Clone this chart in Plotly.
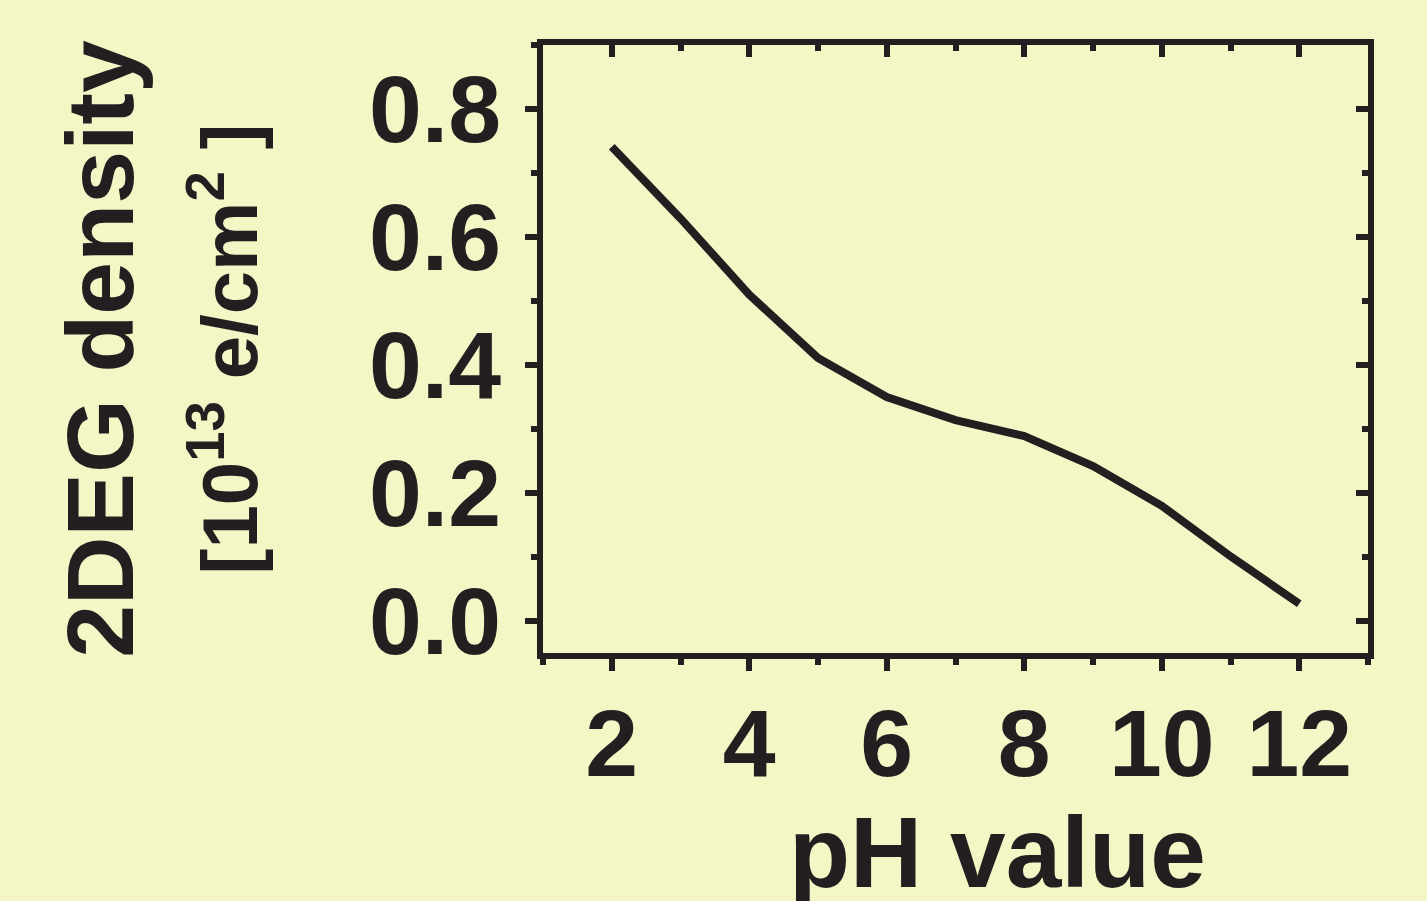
import plotly.graph_objects as go

ph_values = [2, 3, 4, 5, 6, 7, 8, 9, 10, 11, 12]
density = [0.741, 0.629, 0.510, 0.411, 0.350, 0.314, 0.289, 0.242, 0.180, 0.101, 0.027]

x_title = "pH value"
y_title = ("2DEG density<br><span style='font-size:78px'>[10<sup>13</sup> "
           "e/cm<sup>2</sup> ]</span>")

INK = "#231F20"
BG = "#F5F6C6"
FONT = "Liberation Sans, Arial, sans-serif"

fig = go.Figure()
fig.add_trace(go.Scatter(x=ph_values, y=density, mode="lines",
                         line=dict(color=INK, width=8), showlegend=False,
                         hoverinfo="skip"))
# invisible trace to activate mirror axes with inward ticks
fig.add_trace(go.Scatter(x=ph_values, y=density, mode="lines",
                         line=dict(color="rgba(0,0,0,0)", width=0),
                         xaxis="x2", yaxis="y2", showlegend=False,
                         hoverinfo="skip"))

tickfont = dict(family=FONT, size=95, color=INK, weight="bold")
titlefont = dict(family=FONT, size=95, color=INK, weight="bold")

fig.update_layout(
    width=1427, height=901,
    paper_bgcolor=BG, plot_bgcolor=BG,
    margin=dict(l=543, r=59, t=45, b=248, autoexpand=False),
    font=dict(family=FONT, color=INK),
    xaxis=dict(range=[1, 13], tick0=2, dtick=2, ticks="outside",
               ticklen=12, tickwidth=6, tickcolor=INK,
               showline=True, linewidth=6, linecolor=INK, mirror=True,
               showgrid=False, zeroline=False, automargin=False,
               tickfont=tickfont, ticklabelstandoff=-9,
               minor=dict(dtick=1, ticks="outside", ticklen=6, tickwidth=6,
                          tickcolor=INK, showgrid=False)),
    yaxis=dict(range=[-0.05, 0.9], tick0=0, dtick=0.2, tickformat=".1f",
               ticks="outside", ticklen=12, tickwidth=6, tickcolor=INK,
               showline=True, linewidth=6, linecolor=INK, mirror=True,
               showgrid=False, zeroline=False, automargin=False,
               tickfont=tickfont, ticklabelstandoff=5,
               minor=dict(dtick=0.1, ticks="outside", ticklen=6, tickwidth=6,
                          tickcolor=INK, showgrid=False),
               title=dict(text=y_title, font=titlefont, standoff=82)),
    xaxis2=dict(range=[1, 13], overlaying="x", side="top", tick0=2, dtick=2,
                ticks="inside", ticklen=12, tickwidth=6, tickcolor=INK,
                showticklabels=False, showline=False, showgrid=False,
                zeroline=False, automargin=False,
                minor=dict(dtick=1, ticks="inside", ticklen=6, tickwidth=6,
                           tickcolor=INK, showgrid=False)),
    yaxis2=dict(range=[-0.05, 0.9], overlaying="y", side="right", tick0=0,
                dtick=0.2, ticks="inside", ticklen=12, tickwidth=6,
                tickcolor=INK, showticklabels=False, showline=False,
                showgrid=False, zeroline=False, automargin=False,
                minor=dict(dtick=0.1, ticks="inside", ticklen=6, tickwidth=6,
                           tickcolor=INK, showgrid=False)),
    annotations=[dict(text=x_title, xref="paper", yref="paper",
                      x=0.5515, y=0, xanchor="center", yanchor="top",
                      yshift=-141, showarrow=False,
                      font=dict(family=FONT, size=100, color=INK,
                                weight="bold"))],
)

fig.write_html("out.html",
               config={"displayModeBar": False},
               post_script="document.body.style.margin='0px';"
                           "document.body.style.backgroundColor='#F5F6C6';"
                           "document.body.style.overflow='hidden';")
